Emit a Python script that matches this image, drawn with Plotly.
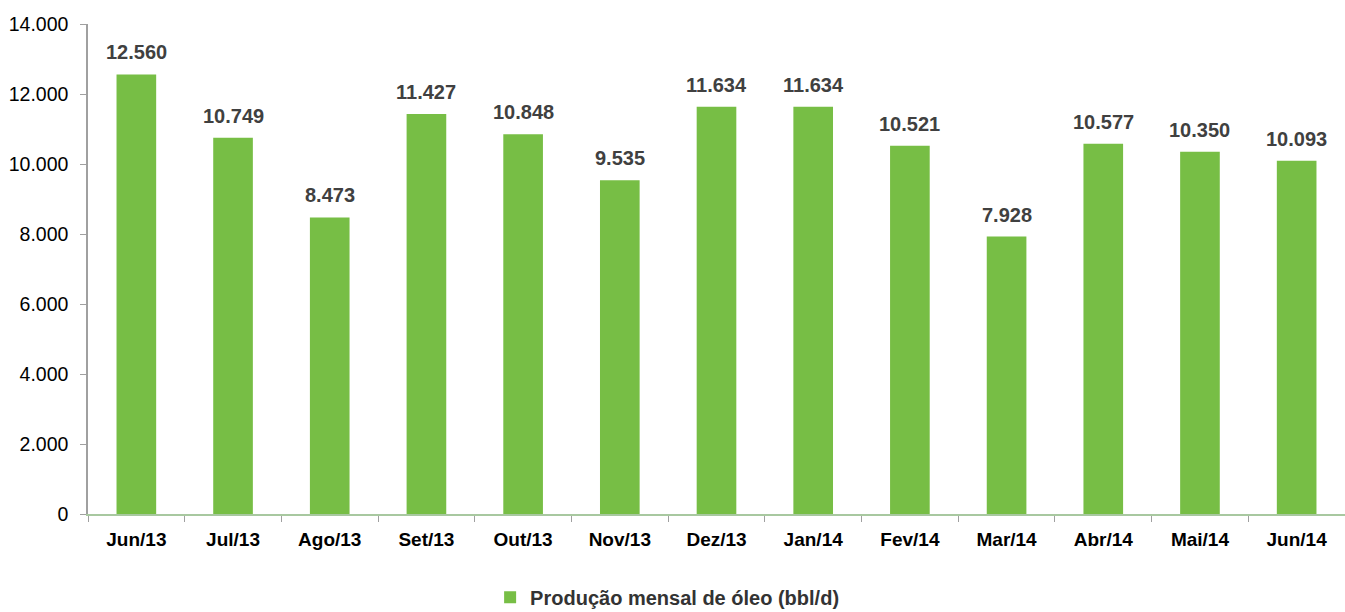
import plotly.graph_objects as go

months = ["Jun/13", "Jul/13", "Ago/13", "Set/13", "Out/13", "Nov/13", "Dez/13",
          "Jan/14", "Fev/14", "Mar/14", "Abr/14", "Mai/14", "Jun/14"]
production = [12560, 10749, 8473, 11427, 10848, 9535, 11634, 11634, 10521, 7928, 10577, 10350, 10093]
series_name = "Produção mensal de óleo (bbl/d)"
y_ticks = [0, 2000, 4000, 6000, 8000, 10000, 12000, 14000]

FONT = "Liberation Sans, Arial"

fig = go.Figure()
fig.add_trace(go.Bar(
    x=months, y=production, name=series_name,
    marker=dict(color="#77BE45", line=dict(width=0)),
    width=0.41,
    showlegend=True,
))

def fmt(v):
    return f"{v:,}".replace(",", ".")

for m, v in zip(months, production):
    fig.add_annotation(
        x=m, y=v, text=fmt(v), showarrow=False, yanchor="bottom", yshift=9,
        font=dict(family=FONT, size=20, color="#404040", weight="bold"),
    )

fig.update_layout(
    width=1345, height=612,
    margin=dict(l=88, r=0, t=24, b=98, autoexpand=False),
    plot_bgcolor="white", paper_bgcolor="white",
    separators=",.",
    font=dict(family=FONT, color="black"),
    showlegend=True,
    legend=dict(orientation="h", xref="container", yref="container", x=0.496, xanchor="center",
                y=0.024, yanchor="middle",
                font=dict(size=20, color="#333333", weight="bold")),
)
fig.update_yaxes(
    range=[0, 14000], tickvals=y_ticks, tickformat=",d", automargin=False,
    showgrid=False, showline=True, linecolor="#A0A0A0", linewidth=1.5,
    ticks="outside", ticklen=6, tickcolor="#A0A0A0", ticklabelstandoff=8,
    tickfont=dict(size=19.5, color="black"), zeroline=False,
)
fig.update_xaxes(
    automargin=False,
    showgrid=False, showline=True, linecolor="#A8C8A0", linewidth=2,
    ticks="outside", ticklen=6, tickcolor="#A0A0A0", tickson="boundaries",
    ticklabelstandoff=7,
    tickfont=dict(size=19, color="black", weight="bold"),
)

fig.write_html("out.html", config={"displayModeBar": False})

# remove the default page margin so the figure sits at the window's top-left corner
with open("out.html", "r", encoding="utf-8") as f:
    html = f.read()
html = html.replace("<head>", "<head><style>html,body{margin:0;padding:0;overflow:hidden;}</style>", 1)
with open("out.html", "w", encoding="utf-8") as f:
    f.write(html)
